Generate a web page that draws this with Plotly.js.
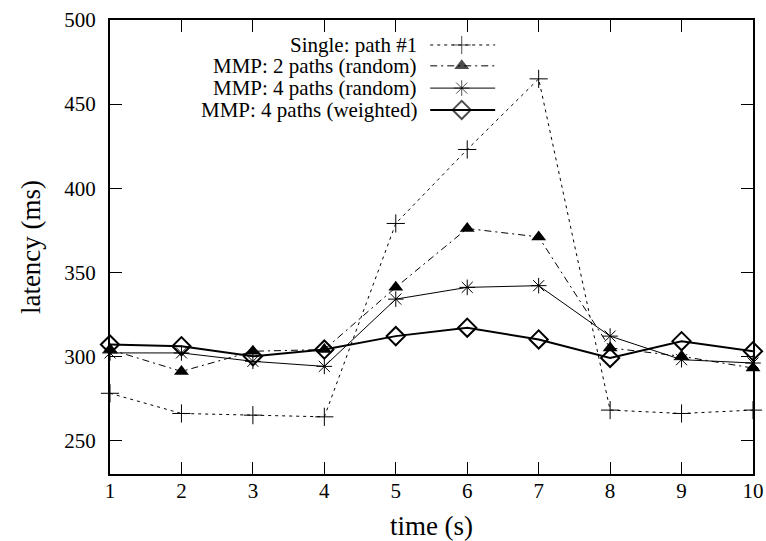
<!DOCTYPE html>
<html>
<head>
<meta charset="utf-8">
<script src="https://cdn.plot.ly/plotly-3.0.1.min.js"></script>
<style>html,body{margin:0;padding:0;background:#fff;}#chart{width:766px;height:541px;}</style>
</head>
<body>
<div id="chart"></div>
<script>
var times = [1, 2, 3, 4, 5, 6, 7, 8, 9, 10];
var singlePath1 = [278, 266, 265, 264, 379, 423, 465, 268, 266, 268];
var mmp2Random = [304, 291, 303, 304, 341, 376, 371, 305, 300, 293];
var mmp4Random = [302, 302, 297, 294, 334, 341, 342, 312, 298, 296];
var mmp4Weighted = [307, 306, 300, 304, 312, 317, 310, 299, 309, 303];
var seriesNames = ["Single: path #1", "MMP: 2 paths (random)", "MMP: 4 paths (random)", "MMP: 4 paths (weighted)"];
var yTicks = [250, 300, 350, 400, 450, 500];

var FONT = "Liberation Serif";

var styles = [
  {line: {color: "#000", width: 1, dash: "3px,4px"}, marker: {symbol: "cross-thin-open", size: 13, color: "#000", line: {color: "#000", width: 1}}},
  {line: {color: "#000", width: 1, dash: "7px,4px,2px,4px"}, marker: {symbol: "triangle-up", size: 13, color: "#000", line: {color: "#000", width: 0}}},
  {line: {color: "#000", width: 1}, marker: {symbol: "asterisk-open", size: 13, color: "#000", line: {color: "#000", width: 1}}},
  {line: {color: "#000", width: 2}, marker: {symbol: "diamond-open", size: 14, color: "#000", line: {color: "#000", width: 2}}}
];
var seriesData = [singlePath1, mmp2Random, mmp4Random, mmp4Weighted];

var traces = [];
seriesData.forEach(function (vals, i) {
  traces.push({
    x: times, y: vals, type: "scatter", mode: "lines+markers", name: seriesNames[i],
    line: styles[i].line, marker: styles[i].marker, cliponaxis: false, showlegend: false
  });
});

// gnuplot-style legend: text on the left, sample on the right
var legendRows = [0.945, 0.899, 0.850, 0.802];
var annotations = [];
seriesNames.forEach(function (nm, i) {
  traces.push({
    x: [0.498, 0.547, 0.599], y: [legendRows[i], legendRows[i], legendRows[i]],
    xaxis: "x2", yaxis: "y2", type: "scatter", mode: "lines+markers",
    line: styles[i].line,
    marker: Object.assign({}, styles[i].marker, {size: [0, styles[i].marker.size, 0]}),
    showlegend: false, hoverinfo: "skip", cliponaxis: false
  });
  annotations.push({
    xref: "paper", yref: "paper", x: 0.481, y: legendRows[i], xanchor: "right", yanchor: "middle",
    text: nm, showarrow: false, font: {family: FONT, size: 21, color: "#000"}
  });
});

var layout = {
  width: 766, height: 541,
  margin: {l: 110, r: 13, t: 20, b: 67},
  paper_bgcolor: "#fff", plot_bgcolor: "#fff",
  font: {family: FONT, color: "#000", size: 21},
  showlegend: false,
  xaxis: {
    range: [1, 10], tickvals: times, ticks: "inside", ticklen: 12, tickwidth: 1, tickcolor: "#000",
    showline: true, linewidth: 2, linecolor: "#000", mirror: "ticks", showgrid: false, zeroline: false,
    tickfont: {family: FONT, size: 21, color: "#000"}, ticklabelstandoff: -3,
    title: {text: "time (s)", font: {family: FONT, size: 27, color: "#000"}, standoff: 16}
  },
  yaxis: {
    range: [230, 500], tickvals: yTicks, ticks: "inside", ticklen: 12, tickwidth: 1, tickcolor: "#000",
    showline: true, linewidth: 2, linecolor: "#000", mirror: "ticks", showgrid: false, zeroline: false,
    tickfont: {family: FONT, size: 21, color: "#000"}, ticklabelstandoff: 8,
    title: {text: "latency (ms)", font: {family: FONT, size: 27, color: "#000"}, standoff: 16}
  },
  xaxis2: {overlaying: "x", range: [0, 1], visible: false, anchor: "y2"},
  yaxis2: {overlaying: "y", range: [0, 1], visible: false, anchor: "x2"},
  annotations: annotations
};

Plotly.newPlot("chart", traces, layout, {displayModeBar: false});
</script>
</body>
</html>
